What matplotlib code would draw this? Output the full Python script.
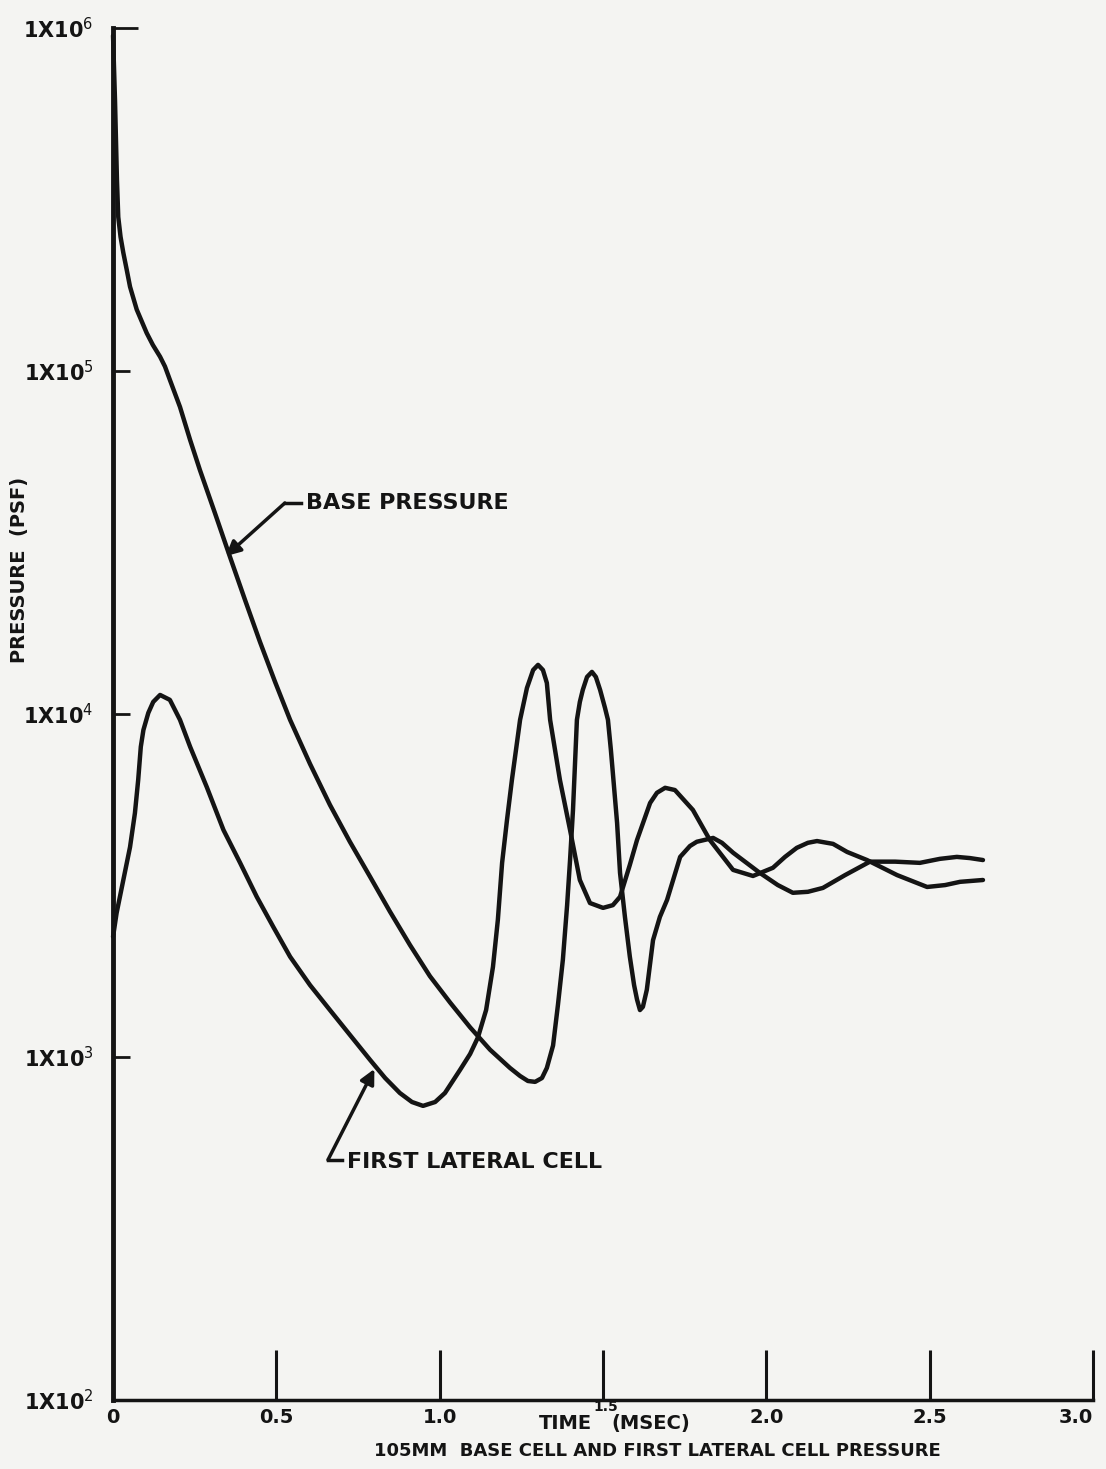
import numpy as np
import matplotlib.pyplot as plt
from matplotlib.ticker import NullLocator

# Presion en la base (psf) vs tiempo (msec)
base_time = [0.0, 0.006, 0.012, 0.016, 0.023, 0.0315, 0.042, 0.052, 0.0725, 0.103,
             0.122, 0.144, 0.159, 0.174, 0.205, 0.236, 0.266, 0.312, 0.358, 0.404,
             0.45, 0.496, 0.542, 0.603, 0.664, 0.725, 0.787, 0.848, 0.909, 0.97,
             1.032, 1.093, 1.154, 1.215, 1.246, 1.27, 1.292, 1.313, 1.328, 1.347,
             1.362, 1.377, 1.39, 1.399, 1.408, 1.414, 1.42, 1.429, 1.438, 1.451,
             1.466, 1.478, 1.491, 1.506, 1.515, 1.524, 1.53, 1.543, 1.552, 1.567,
             1.582, 1.595, 1.604, 1.613, 1.622, 1.634, 1.653, 1.674, 1.696, 1.736,
             1.766, 1.787, 1.837, 1.864, 1.898, 1.98, 2.035, 2.081, 2.127, 2.173,
             2.241, 2.317, 2.394, 2.47, 2.531, 2.583, 2.623, 2.663]
base_psf = [950000, 617000, 360000, 281000, 246000, 221000, 197000, 176000, 151000, 129000,
            119000, 110000, 103000, 94200, 78500, 62900, 51400, 38500, 28700, 21500,
            16200, 12400, 9610, 7150, 5430, 4240, 3350, 2650, 2120, 1720,
            1440, 1220, 1050, 929, 880, 851, 846, 868, 929, 1080,
            1420, 1920, 2770, 3750, 5250, 7100, 9610, 10840, 11750, 12820,
            13260, 12820, 11750, 10410, 9610, 7850, 6730, 4810, 3440, 2560,
            1960, 1620, 1470, 1370, 1400, 1570, 2190, 2560, 2870, 3830,
            4120, 4240, 4350, 4210, 3940, 3440, 3170, 3010, 3030, 3110,
            3390, 3710, 3710, 3680, 3780, 3830, 3800, 3750]

# Primera celda lateral
lateral_time = [0.0, 0.011, 0.0315, 0.052, 0.067, 0.077, 0.085, 0.093, 0.108, 0.123,
                0.144, 0.174, 0.205, 0.236, 0.287, 0.338, 0.389, 0.44, 0.491, 0.542,
                0.603, 0.664, 0.725, 0.787, 0.833, 0.878, 0.915, 0.949, 0.986, 1.016,
                1.062, 1.093, 1.117, 1.142, 1.163, 1.178, 1.191, 1.206, 1.221, 1.246,
                1.267, 1.286, 1.301, 1.316, 1.328, 1.338, 1.368, 1.399, 1.429, 1.46,
                1.5, 1.53, 1.552, 1.582, 1.604, 1.644, 1.665, 1.69, 1.72, 1.775,
                1.827, 1.898, 1.959, 2.02, 2.057, 2.093, 2.127, 2.155, 2.204, 2.247,
                2.308, 2.4, 2.492, 2.547, 2.593, 2.663]
lateral_psf = [2240, 2630, 3280, 4090, 5140, 6420, 8020, 8980, 10070, 10840,
               11360, 10990, 9610, 8020, 6120, 4590, 3680, 2930, 2390, 1960,
               1620, 1370, 1160, 980, 868, 785, 739, 720, 739, 785,
               916, 1020, 1140, 1370, 1830, 2510, 3680, 4910, 6420, 9610,
               11900, 13430, 13900, 13430, 12310, 9610, 6420, 4590, 3280, 2810,
               2720, 2770, 2930, 3630, 4290, 5500, 5890, 6090, 6000, 5250,
               4290, 3510, 3370, 3560, 3830, 4070, 4210, 4260, 4180, 3960,
               3750, 3390, 3130, 3170, 3240, 3280]

x_ticks = [0, 0.5, 1.0, 1.5, 2.0, 2.5, 3.0]
x_tick_labels = ['0', '0.5', '1.0', '', '2.0', '2.5', '3.0']
y_ticks = [1e2, 1e3, 1e4, 1e5, 1e6]
y_tick_labels = [r'1X10$^2$', r'1X10$^3$', r'1X10$^4$', r'1X10$^5$', r'1X10$^6$']

ink = '#141414'
paper = '#f4f4f2'

fig = plt.figure(figsize=(11.06, 14.69), dpi=100, facecolor=paper)
ax = fig.add_axes([0.1022, 0.047, 0.8861, 0.934])
ax.set_facecolor(paper)

ax.plot(base_time, base_psf, color=ink, lw=3.2, solid_joinstyle='round',
        solid_capstyle='round', clip_on=False)
ax.plot(lateral_time, lateral_psf, color=ink, lw=3.2, solid_joinstyle='round',
        solid_capstyle='round', clip_on=False)

ax.set_yscale('log')
ax.set_xlim(0, 3.0)
ax.set_ylim(1e2, 1e6)

# Ejes: solo izquierda y abajo
ax.spines['top'].set_visible(False)
ax.spines['right'].set_visible(False)
ax.spines['left'].set_linewidth(3.5)
ax.spines['bottom'].set_linewidth(2.5)
ax.spines['left'].set_color(ink)
ax.spines['bottom'].set_color(ink)

ax.set_xticks(x_ticks)
ax.set_xticklabels(x_tick_labels)
ax.set_yticks(y_ticks)
ax.set_yticklabels(y_tick_labels)
ax.yaxis.set_minor_locator(NullLocator())
ax.tick_params(axis='x', direction='in', length=36, width=2.2, color=ink, pad=6,
               labelsize=14, labelcolor=ink)
ax.tick_params(axis='y', direction='in', length=12, width=2, color=ink, pad=14,
               labelsize=15, labelcolor=ink)
for lab in ax.get_xticklabels() + ax.get_yticklabels():
    lab.set_fontweight('bold')
ax.get_xticklabels()[-1].set_horizontalalignment('right')
ax.xaxis.get_major_ticks()[0].tick1line.set_visible(False)
ax.yaxis.get_major_ticks()[0].tick1line.set_visible(False)
ax.yaxis.get_major_ticks()[-1].tick1line.set_markersize(18)

# TIME (MSEC) con el 1.5 pequeño y levantado entre las palabras
fig.text(0.511, 0.031, 'TIME', ha='center', va='center', fontsize=14,
         fontweight='bold', color=ink)
fig.text(0.553, 0.031, '(MSEC)', ha='left', va='center', fontsize=14,
         fontweight='bold', color=ink)
fig.text(0.548, 0.0422, '1.5', ha='center', va='center', fontsize=10,
         fontweight='bold', color=ink)
fig.text(0.594, 0.0125, '105MM  BASE CELL AND FIRST LATERAL CELL PRESSURE',
         ha='center', va='center', fontsize=13, fontweight='bold', color=ink)
fig.text(0.018, 0.612, 'PRESSURE  (PSF)', rotation=90, ha='center', va='center',
         fontsize=14, fontweight='bold', color=ink)

# Flechas de las curvas
ax.annotate('', xy=(0.345, 10**4.46), xytext=(0.526, 10**4.615),
            arrowprops=dict(arrowstyle='-|>', color=ink, lw=2.5, mutation_scale=22,
                            shrinkA=0, shrinkB=0))
ax.plot([0.526, 0.575], [10**4.615, 10**4.615], color=ink, lw=2.5)
ax.text(0.59, 10**4.615, 'BASE PRESSURE', fontsize=16, fontweight='bold', color=ink,
        va='center', ha='left')

ax.annotate('', xy=(0.80, 10**2.965), xytext=(0.658, 10**2.70),
            arrowprops=dict(arrowstyle='-|>', color=ink, lw=2.5, mutation_scale=22,
                            shrinkA=0, shrinkB=0))
ax.plot([0.658, 0.70], [10**2.70, 10**2.70], color=ink, lw=2.5)
ax.text(0.715, 10**2.695, 'FIRST LATERAL CELL', fontsize=16, fontweight='bold',
        color=ink, va='center', ha='left')

plt.savefig('out.png', dpi=100, facecolor=paper)
